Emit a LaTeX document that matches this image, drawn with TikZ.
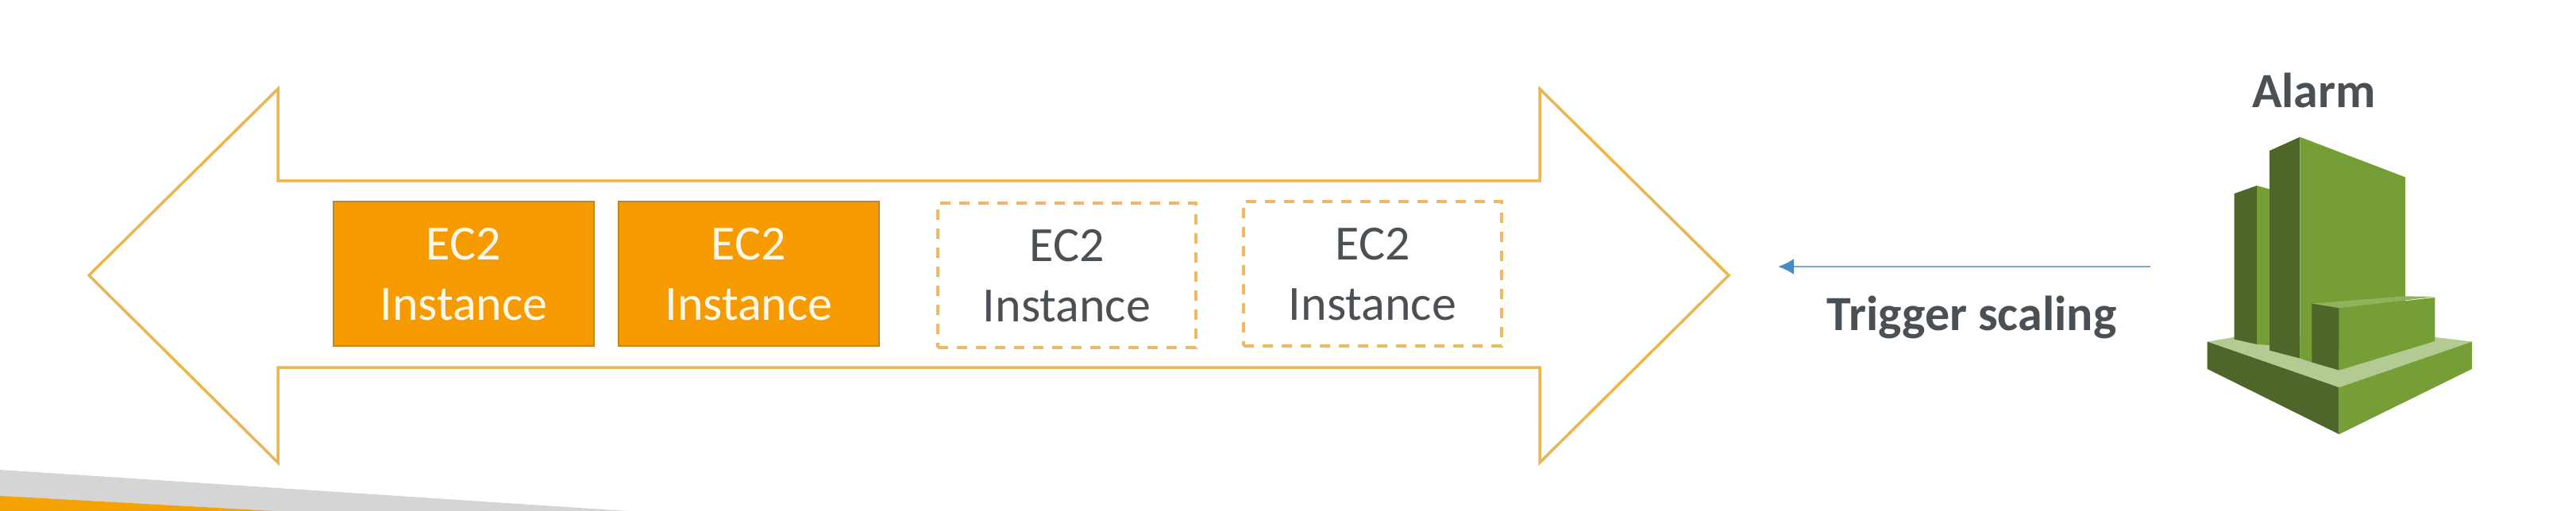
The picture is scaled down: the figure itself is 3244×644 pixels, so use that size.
\documentclass[tikz,border=0pt]{standalone}
\usepackage{fontspec}
\setmainfont{Carlito}
\usetikzlibrary{positioning,arrows.meta}
\definecolor{ecorange}{HTML}{F59B00}
\definecolor{ecedge}{HTML}{BF8527}
\definecolor{hullcol}{HTML}{E9B650}
\definecolor{dashcol}{HTML}{EFB963}
\definecolor{inkgrey}{HTML}{4B5055}
\definecolor{flowblue}{HTML}{7FA6CF}
\definecolor{tipblue}{HTML}{4A89C8}
\definecolor{leafdark}{HTML}{4E6629}
\definecolor{leafmid}{HTML}{759F36}
\definecolor{leaflight}{HTML}{B3CB93}
\definecolor{leafstrip}{HTML}{8FB35A}
\definecolor{bandgrey}{HTML}{D5D5D5}
\definecolor{bandorange}{HTML}{F5A300}
\tikzset{
 instbox/.style = {shape=rectangle, minimum height=182pt, text depth=-4pt,
 inner sep=0pt, outer sep=0pt, align=center, font=\fontsize{62}{76}\selectfont},
 runbox/.style = {instbox, minimum width=328pt, fill=ecorange, draw=ecedge, line width=2.5pt, text=white!92!ecorange},
 sparebox/.style = {instbox, minimum width=325pt, draw=dashcol, line width=4pt, dash pattern=on 13pt off 11pt, text=inkgrey},
 caption/.style = {font=\fontsize{62}{70}\selectfont\bfseries, text=inkgrey, inner sep=0pt}
}
\begin{document}
\begin{tikzpicture}[x=1pt, y=-1pt]
 \useasboundingbox (0,0) rectangle (3244,644);
 % footer band
 \fill [bandgrey] (0,592) -- (790,644) -- (0,644) -- cycle;
 \fill [bandorange] (0,625) -- (345,644) -- (0,644) -- cycle;
 % double arrow
 \draw [hullcol, line width=3.5pt, line join=miter]
 (112,347) -- (350,112) -- (350,228) -- (1939,228) -- (1939,112) -- (2177,347)
 -- (1939,583) -- (1939,463) -- (350,463) -- (350,583) -- cycle;
 % instances
 \node (econe) [runbox, anchor=north west] at (420,254) {EC2\\Instance};
 \node (ectwo) [runbox, right=31pt of econe] {EC2\\Instance};
 \node (ecthree) [sparebox, anchor=north west] at (1181,256) {EC2\\Instance};
 \node (ecfour) [sparebox, anchor=north west] at (1566,254) {EC2\\Instance};
 % trigger
 \coordinate (trigfrom) at (2708,336);
 \coordinate (trigto) at (2239,336);
 \draw [flowblue, line width=2.5pt, -{Latex[length=20pt,width=20pt,color=tipblue]}] (trigfrom) -- (trigto);
 \node (trigtext) [caption] at (2483,400) {Trigger scaling};
 \node (alarmtext) [caption] at (2914,114) {Alarm};
 % alarm icon
 \begin{scope}[x=0.3333pt, y=-0.3333pt, shift={(8040,180)}]
 \fill [leaflight] (300,1112) -- (400,1095) -- (1160,1095) -- (1300,1112) -- (798,1285) -- cycle;
 \fill [leafdark] (300,1112) -- (798,1285) -- (798,1462) -- (300,1215) -- cycle;
 \fill [leafmid] (798,1285) -- (1300,1112) -- (1300,1215) -- (798,1462) -- cycle;
 \fill [leafdark] (402,552) -- (487,522) -- (487,1122) -- (402,1103) -- cycle;
 \fill [leafmid] (487,522) -- (535,535) -- (535,1125) -- (487,1122) -- cycle;
 \fill [leafdark] (535,390) -- (650,338) -- (650,1175) -- (535,1145) -- cycle;
 \fill [leafmid] (650,338) -- (1048,490) -- (1048,1000) -- (695,1190) -- (650,1175) -- cycle;
 \fill [leafstrip] (695,968) -- (1048,940) -- (1160,942) -- (798,985) -- cycle;
 \fill [leafdark] (695,968) -- (798,985) -- (798,1220) -- (695,1190) -- cycle;
 \fill [leafmid] (798,985) -- (1160,945) -- (1160,1110) -- (798,1220) -- cycle;
 \end{scope}
\end{tikzpicture}
\end{document}
